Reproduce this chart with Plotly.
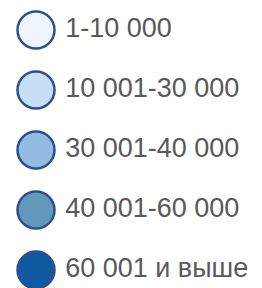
import plotly.graph_objects as go

labels = ["1-10 000", "10 001-30 000", "30 001-40 000", "40 001-60 000", "60 001 и выше"]
fill_colors = ["#EEF5FD", "#C6DFF5", "#94BBE0", "#6399B8", "#0F5A9E"]
edge_color = "#2D5190"
rows = list(range(len(labels)))

fig = go.Figure()
fig.add_trace(go.Scatter(
    x=[0] * len(labels), y=rows, mode="markers",
    marker=dict(size=37, color=fill_colors, line=dict(color=edge_color, width=2.5)),
    hoverinfo="skip", showlegend=False,
))
fig.add_trace(go.Scatter(
    x=[0] * len(labels), y=rows, mode="markers+text", text=labels,
    textposition="middle right",
    textfont=dict(family="Liberation Sans, Arial, sans-serif", size=27, color="#595959"),
    marker=dict(size=45, color="rgba(0,0,0,0)"),
    hoverinfo="skip", showlegend=False,
))
fig.update_layout(
    width=262, height=288, margin=dict(l=0, r=0, t=0, b=0),
    paper_bgcolor="white", plot_bgcolor="white",
    xaxis=dict(visible=False, range=[-1, 226 / 36], fixedrange=True),
    yaxis=dict(visible=False, range=[4.3, -0.5], fixedrange=True),
)
fig.write_html(
    "out.html",
    config={"displayModeBar": False},
    post_script="document.body.style.margin='0';document.body.style.overflow='hidden';",
)
